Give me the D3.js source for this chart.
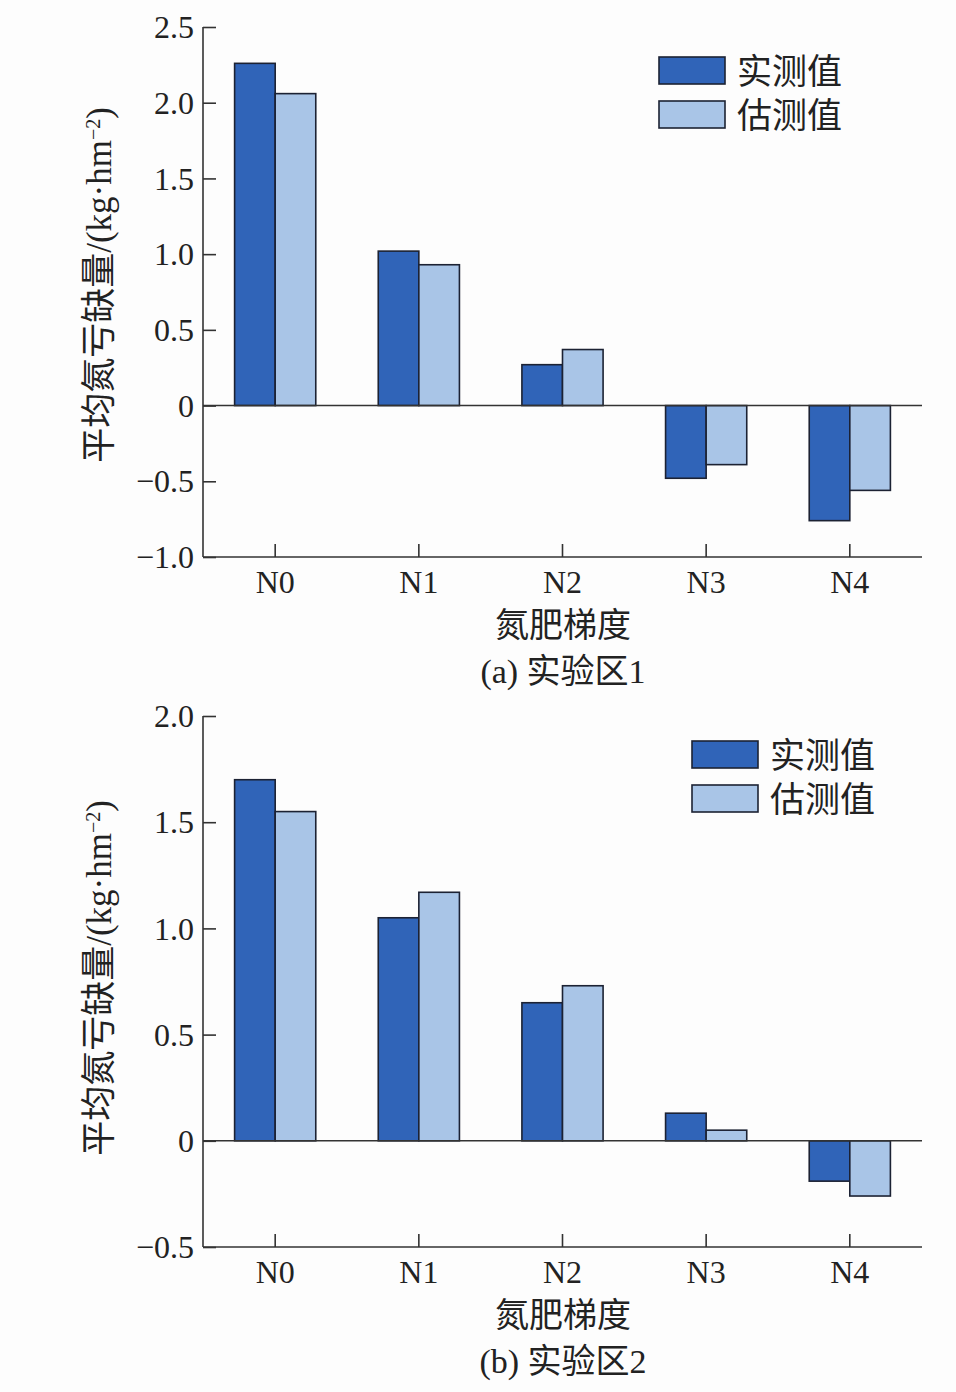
<!DOCTYPE html>
<html><head><meta charset="utf-8">
<script src="https://cdn.jsdelivr.net/npm/d3@7"></script>
<style>
html,body{margin:0;padding:0;background:#fdfdfd;}
svg{display:block;}
text{font-family:"Liberation Serif","Noto Sans CJK SC",serif;fill:#222;}
</style></head>
<body>
<svg id="chart" width="956" height="1392"></svg>
<script>
const categories = ["N0","N1","N2","N3","N4"];
const seriesNames = ["实测值","估测值"];
const measuredA = [2.26, 1.02, 0.27, -0.48, -0.76];
const estimatedA = [2.06, 0.93, 0.37, -0.39, -0.56];
const measuredB = [1.70, 1.05, 0.65, 0.13, -0.19];
const estimatedB = [1.55, 1.17, 0.73, 0.05, -0.26];
const ticksA = [-1.0, -0.5, 0, 0.5, 1.0, 1.5, 2.0, 2.5];
const ticksB = [-0.5, 0, 0.5, 1.0, 1.5, 2.0];
const xTitle = "氮肥梯度";
const captionA = "(a) 实验区1";
const captionB = "(b) 实验区2";
const colors = ["#3064b8", "#a9c5e7"];

const svg = d3.select("#chart");
const fmt = v => v === 0 ? "0" : (v < 0 ? "\u2212" : "") + Math.abs(v).toFixed(1);

function panel(cfg) {
  const g = svg.append("g");
  const x = d3.scaleBand().domain(categories).range([cfg.left, cfg.right])
    .paddingInner(0.435).paddingOuter(0.22);
  const xs = d3.scaleBand().domain(seriesNames).range([0, x.bandwidth()]);
  const y = d3.scaleLinear().domain(cfg.domain).range([cfg.bottom, cfg.top]);

  const rows = categories.map((c, i) => ({c, vals: [cfg.measured[i], cfg.estimated[i]]}));
  const grp = g.selectAll("g.cat").data(rows).join("g")
    .attr("transform", d => `translate(${x(d.c)},0)`);
  grp.selectAll("rect").data(d => d.vals.map((v, k) => ({v, k})))
    .join("rect")
    .attr("x", d => xs(seriesNames[d.k]))
    .attr("width", xs.bandwidth())
    .attr("y", d => Math.min(y(d.v), y(0)))
    .attr("height", d => Math.abs(y(d.v) - y(0)))
    .attr("fill", d => colors[d.k])
    .attr("stroke", "#1c2233").attr("stroke-width", 1.6);

  g.append("line").attr("x1", cfg.left).attr("x2", cfg.right)
    .attr("y1", y(0)).attr("y2", y(0)).attr("stroke", "#333").attr("stroke-width", 1.6);

  const yAxis = d3.axisRight(y).tickValues(cfg.ticks).tickSize(13).tickFormat("");
  const ya = g.append("g").attr("transform", `translate(${cfg.left},0)`).call(yAxis);
  ya.select(".domain").attr("d", `M0,${cfg.top}V${cfg.bottom}`);
  ya.selectAll("line,path").attr("stroke", "#333").attr("stroke-width", 1.6);
  g.selectAll("text.ytick").data(cfg.ticks).join("text").attr("class", "ytick")
    .attr("x", cfg.left - 9).attr("y", d => y(d)).attr("dy", "0.35em")
    .attr("text-anchor", "end").attr("font-size", 32).text(fmt);

  const xAxis = d3.axisTop(x).tickSize(13).tickFormat("");
  const xa = g.append("g").attr("transform", `translate(0,${cfg.bottom})`).call(xAxis);
  xa.select(".domain").attr("d", `M${cfg.left},0H${cfg.right}`);
  xa.selectAll("line,path").attr("stroke", "#333").attr("stroke-width", 1.6);
  g.selectAll("text.xtick").data(categories).join("text").attr("class", "xtick")
    .attr("x", d => x(d) + x.bandwidth() / 2).attr("y", cfg.bottom + 36)
    .attr("text-anchor", "middle").attr("font-size", 32).text(d => d);

  g.append("text").attr("x", 563).attr("y", cfg.bottom + 80)
    .attr("text-anchor", "middle").attr("font-size", 34).text(xTitle);
  g.append("text").attr("x", 563).attr("y", cfg.bottom + 126)
    .attr("text-anchor", "middle").attr("font-size", 34).text(cfg.caption);

  const yt = g.append("text")
    .attr("transform", `translate(${111},${cfg.ymid}) rotate(-90)`)
    .attr("text-anchor", "middle").attr("font-size", 35);
  yt.append("tspan").text("平均氮亏缺量/(kg·hm");
  yt.append("tspan").attr("baseline-shift", "super").attr("font-size", 20).text("\u22122");
  yt.append("tspan").text(")");

  seriesNames.forEach((s, k) => {
    const ly = cfg.legY + k * 44;
    g.append("rect").attr("x", cfg.legX).attr("y", ly).attr("width", 66).attr("height", 27)
      .attr("fill", colors[k]).attr("stroke", "#1c2233").attr("stroke-width", 1.6);
    g.append("text").attr("x", cfg.legX + 78).attr("y", ly + 13.5).attr("dy", "0.38em")
      .attr("font-size", 35).text(s);
  });
}

panel({left: 203, right: 922, top: 27, bottom: 557, domain: [-1.0, 2.5], ticks: ticksA,
  measured: measuredA, estimated: estimatedA, caption: captionA, ymid: 285, legX: 659, legY: 57});
panel({left: 203, right: 922, top: 716, bottom: 1247, domain: [-0.5, 2.0], ticks: ticksB,
  measured: measuredB, estimated: estimatedB, caption: captionB, ymid: 978, legX: 692, legY: 741});
</script>
</body></html>
